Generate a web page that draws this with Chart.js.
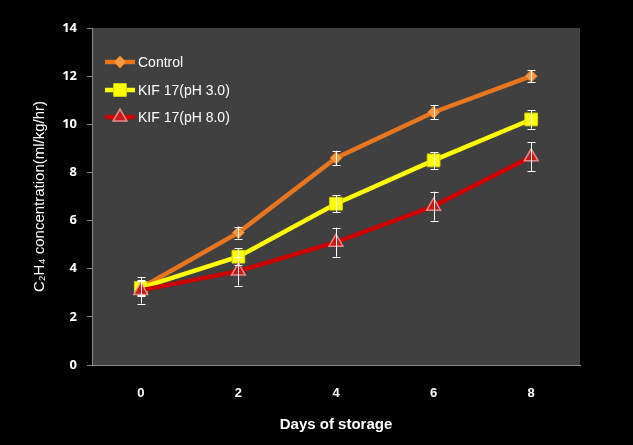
<!DOCTYPE html>
<html lang="en">
<head>
    <meta charset="UTF-8">
    <title>C2H4 concentration vs days of storage</title>
    <script src="https://cdn.jsdelivr.net/npm/chart.js"></script>
    <style>
        html, body {
            margin: 0;
            padding: 0;
            background-color: #000000;
        }
        #wrap {
            width: 633px;
            height: 445px;
        }
    </style>
</head>
<body>
    <div id="wrap"><canvas id="ethyleneChart" width="633" height="445"></canvas></div>

    <script>
        // Data
        const days = ['0', '2', '4', '6', '8'];
        const controlValues = [3.2, 5.5, 8.6, 10.5, 12.0];
        const controlErrors = [0.3, 0.25, 0.3, 0.3, 0.25];
        const kif30Values = [3.2, 4.5, 6.7, 8.5, 10.2];
        const kif30Errors = [0.35, 0.35, 0.35, 0.35, 0.38];
        const kif80Values = [3.1, 3.9, 5.1, 6.6, 8.65];
        const kif80Errors = [0.55, 0.6, 0.6, 0.6, 0.6];
        const yTicks = [0, 2, 4, 6, 8, 10, 12, 14];

        const errorsByDataset = [controlErrors, kif30Errors, kif80Errors];

        // Dark plot area behind the lines
        const plotBackground = {
            id: 'plotBackground',
            beforeDraw(chart) {
                const { ctx, chartArea } = chart;
                ctx.save();
                ctx.fillStyle = '#404040';
                ctx.fillRect(chartArea.left, chartArea.top, chartArea.right - chartArea.left, chartArea.bottom - chartArea.top);
                ctx.restore();
            }
        };

        // White error bars with caps
        const errorBars = {
            id: 'errorBars',
            afterDatasetsDraw(chart) {
                const { ctx } = chart;
                const yScale = chart.scales.y;
                ctx.save();
                ctx.strokeStyle = '#ffffff';
                ctx.lineWidth = 1;
                chart.data.datasets.forEach((ds, di) => {
                    const meta = chart.getDatasetMeta(di);
                    const errs = errorsByDataset[di];
                    meta.data.forEach((pt, i) => {
                        const x = Math.round(pt.x) + 0.5;
                        const top = yScale.getPixelForValue(ds.data[i] + errs[i]);
                        const bot = yScale.getPixelForValue(ds.data[i] - errs[i]);
                        ctx.beginPath();
                        ctx.moveTo(x, top);
                        ctx.lineTo(x, bot);
                        ctx.moveTo(x - 4, Math.round(top) + 0.5);
                        ctx.lineTo(x + 4, Math.round(top) + 0.5);
                        ctx.moveTo(x - 4, Math.round(bot) + 0.5);
                        ctx.lineTo(x + 4, Math.round(bot) + 0.5);
                        ctx.stroke();
                    });
                });
                ctx.restore();
            }
        };

        // Legend inside the plot, top-left
        const insideLegend = {
            id: 'insideLegend',
            afterDraw(chart) {
                const { ctx } = chart;
                const rows = [62, 90, 117];
                ctx.save();
                chart.data.datasets.forEach((ds, di) => {
                    const y = rows[di];
                    ctx.strokeStyle = ds.borderColor;
                    ctx.lineWidth = ds.borderWidth;
                    ctx.beginPath();
                    ctx.moveTo(105, y);
                    ctx.lineTo(135, y);
                    ctx.stroke();
                    ctx.fillStyle = ds.pointBackgroundColor;
                    ctx.strokeStyle = ds.pointBorderColor;
                    ctx.lineWidth = ds.pointBorderWidth;
                    Chart.helpers.drawPoint(ctx, {
                        pointStyle: ds.pointStyle,
                        radius: ds.pointRadius,
                        rotation: 0,
                        borderWidth: ds.pointBorderWidth
                    }, 120, y);
                    ctx.fillStyle = '#ffffff';
                    ctx.font = '14px "Liberation Sans", Arial, sans-serif';
                    ctx.textBaseline = 'middle';
                    ctx.textAlign = 'left';
                    ctx.fillText(ds.label, 138, y + 1);
                });
                ctx.restore();
            }
        };

        const ctx = document.getElementById('ethyleneChart').getContext('2d');
        new Chart(ctx, {
            type: 'line',
            data: {
                labels: days,
                datasets: [{
                    label: 'Control',
                    data: controlValues,
                    borderColor: '#E8761E',
                    borderWidth: 4.5,
                    pointStyle: 'rectRot',
                    pointRadius: 6,
                    pointBackgroundColor: '#F39A45',
                    pointBorderColor: '#E8761E',
                    pointBorderWidth: 1,
                    order: 3
                }, {
                    label: 'KIF 17(pH 3.0)',
                    data: kif30Values,
                    borderColor: '#FFFF00',
                    borderWidth: 4.5,
                    pointStyle: 'rect',
                    pointRadius: 9,
                    pointBackgroundColor: '#FFFF00',
                    pointBorderColor: '#D8D800',
                    pointBorderWidth: 1,
                    order: 2
                }, {
                    label: 'KIF 17(pH 8.0)',
                    data: kif80Values,
                    borderColor: '#CC0000',
                    borderWidth: 4.5,
                    pointStyle: 'triangle',
                    pointRadius: 8,
                    pointBackgroundColor: '#C81818',
                    pointBorderColor: '#E88A8A',
                    pointBorderWidth: 1.5,
                    order: 1
                }]
            },
            options: {
                responsive: false,
                animation: false,
                events: [],
                layout: {
                    padding: { top: 28, right: 53, left: 0, bottom: 0 }
                },
                plugins: {
                    legend: { display: false },
                    tooltip: { enabled: false }
                },
                scales: {
                    x: {
                        offset: true,
                        afterFit(scale) { scale.height = 80; },
                        grid: { display: false, drawTicks: false },
                        border: { display: true, color: '#8c8c8c', width: 1 },
                        ticks: {
                            color: '#ffffff',
                            padding: 21,
                            font: { family: '"Liberation Sans", Arial, sans-serif', size: 13, weight: 'bold' }
                        },
                        title: {
                            display: true,
                            text: 'Days of storage',
                            color: '#ffffff',
                            padding: { top: 0, bottom: 11 },
                            font: { family: '"Liberation Sans", Arial, sans-serif', size: 15, weight: 'bold' }
                        }
                    },
                    y: {
                        min: 0,
                        max: 14,
                        afterFit(scale) { scale.width = 92; },
                        afterBuildTicks(scale) {
                            scale.ticks = yTicks.map(v => ({ value: v }));
                        },
                        grid: {
                            drawOnChartArea: false,
                            drawTicks: true,
                            tickLength: 5,
                            color: '#8c8c8c'
                        },
                        border: { display: true, color: '#8c8c8c', width: 1 },
                        ticks: {
                            color: '#ffffff',
                            padding: 10,
                            font: { family: '"Noto Sans", "Liberation Sans", sans-serif', size: 13, weight: 'bold' }
                        },
                        title: {
                            display: true,
                            text: 'C\u2082H\u2084 concentration(ml/kg/hr)',
                            color: '#ffffff',
                            padding: { top: 31, bottom: 0 },
                            font: { family: '"Liberation Sans", Arial, sans-serif', size: 15 }
                        }
                    }
                }
            },
            plugins: [plotBackground, errorBars, insideLegend]
        });
    </script>
</body>
</html>
